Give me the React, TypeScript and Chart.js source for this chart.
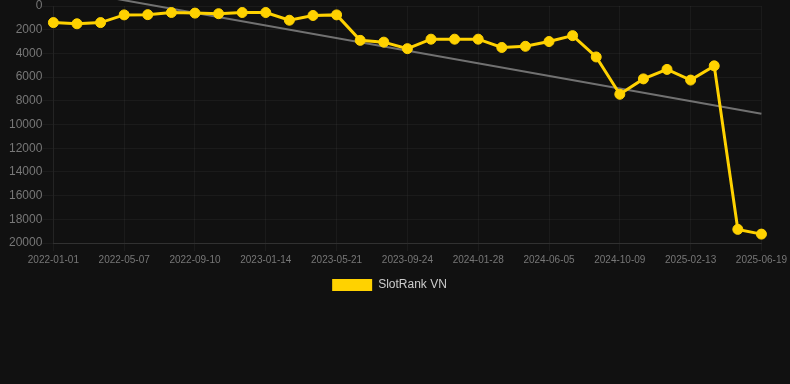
import React, { useEffect, useRef } from "react";
import { Chart, registerables } from "chart.js";

Chart.register(...registerables);

const dates: string[] = [
  "2022-01-01", "2022-02-12", "2022-03-26", "2022-05-07", "2022-06-18", "2022-07-30",
  "2022-09-10", "2022-10-22", "2022-12-03", "2023-01-14", "2023-02-25", "2023-04-08",
  "2023-05-21", "2023-07-02", "2023-08-13", "2023-09-24", "2023-11-05", "2023-12-17",
  "2024-01-28", "2024-03-10", "2024-04-22", "2024-06-05", "2024-07-17", "2024-08-28",
  "2024-10-09", "2024-11-20", "2025-01-01", "2025-02-13", "2025-03-27", "2025-05-08",
  "2025-06-19",
];

const rankVN: number[] = [
  1400, 1500, 1400, 750, 730, 550, 600, 650, 550, 550,
  1200, 800, 750, 2900, 3050, 3600, 2800, 2800, 2800, 3500,
  3400, 3000, 2500, 4300, 7450, 6150, 5350, 6250, 5050, 18850,
  19250,
];

const trendStart = -1550;
const trendEnd = 9100;

const seriesLabel = "SlotRank VN";
const yTicksMax = 20000;
const yStep = 2000;

export default function App() {
  const ref = useRef<HTMLCanvasElement | null>(null);

  useEffect(() => {
    if (!ref.current) return;
    Chart.defaults.font.family = "'Liberation Sans', Arial, Helvetica, sans-serif";
    const trendData: (number | null)[] = dates.map((_, i) =>
      i === 0 ? trendStart : i === dates.length - 1 ? trendEnd : null
    );
    const chart = new Chart(ref.current, {
      type: "line",
      data: {
        labels: dates,
        datasets: [
          {
            label: seriesLabel,
            data: rankVN,
            borderColor: "#FFD200",
            backgroundColor: "#FFD200",
            borderWidth: 3,
            pointRadius: 5,
            pointBorderWidth: 1,
            pointBackgroundColor: "#FFD200",
            pointBorderColor: "#FFD200",
            tension: 0,
          },
          {
            label: "trend",
            data: trendData,
            borderColor: "rgba(130,130,130,0.85)",
            backgroundColor: "rgba(130,130,130,0.85)",
            borderWidth: 2,
            pointRadius: 0,
            spanGaps: true,
            clip: false as any,
          },
        ],
      },
      options: {
        animation: false,
        responsive: true,
        maintainAspectRatio: false,
        layout: { padding: { left: -10, right: 1, top: 1, bottom: 0 } },
        scales: {
          x: {
            grid: { color: "rgba(255,255,255,0.045)", tickColor: "rgba(255,255,255,0.045)" },
            border: { color: "rgba(255,255,255,0.1)" },
            ticks: { color: "#777", font: { size: 10 }, maxRotation: 0, autoSkip: true },
          },
          y: {
            reverse: true,
            min: 0,
            max: yTicksMax,
            afterFit: (s: any) => {
              s.width += 19;
            },
            grid: {
              color: "rgba(255,255,255,0.045)",
              tickColor: "rgba(255,255,255,0.045)",
              tickLength: 11,
            },
            border: { color: "rgba(255,255,255,0.045)" },
            ticks: {
              color: "#777",
              padding: 0,
              font: { size: 12, lineHeight: 1 },
              stepSize: yStep,
              callback: (v: any) => String(v),
            },
          },
        },
        plugins: {
          legend: {
            position: "bottom",
            labels: {
              color: "#ccc",
              font: { size: 12 },
              filter: (item: any) => item.text === seriesLabel,
              generateLabels: (c: any) =>
                Chart.defaults.plugins.legend.labels
                  .generateLabels(c)
                  .map((it: any) => ({ ...it, lineWidth: 0 })),
            },
          },
          tooltip: { enabled: false },
        },
      },
    });
    return () => chart.destroy();
  }, []);

  return (
    <div style={{ position: "fixed", inset: 0, background: "#111" }}>
      <div style={{ position: "relative", width: 790, height: 301 }}>
        <canvas ref={ref} />
      </div>
    </div>
  );
}
